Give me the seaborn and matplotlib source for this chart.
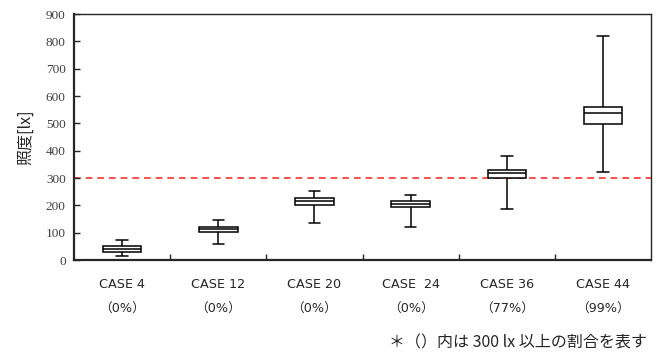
import numpy as np
import pandas as pd
import matplotlib
matplotlib.use('Agg')
import matplotlib.pyplot as plt
import seaborn as sns

# ケース名と300lx以上の割合
cases = ['CASE 4', 'CASE 12', 'CASE 20', 'CASE  24', 'CASE 36', 'CASE 44']
ratios = ['（0%）', '（0%）', '（0%）', '（0%）', '（77%）', '（99%）']

# 箱ひげ図の値（最小, 第1四分位, 中央値, 第3四分位, 最大）[lx]
lx_min = [13, 60, 134, 121, 188, 323]
lx_q1 = [29, 104, 202, 193, 302, 499]
lx_med = [40, 112, 216, 205, 318, 539]
lx_q3 = [52, 122, 228, 215, 330, 561]
lx_max = [72, 147, 254, 237, 382, 819]

threshold = 300

rows = []
for i, c in enumerate(cases):
    for v in (lx_min[i], lx_q1[i], lx_med[i], lx_q3[i], lx_max[i]):
        rows.append({'case': c, 'lx': v})
df = pd.DataFrame(rows)

sns.set_style('ticks')
plt.rcParams['font.family'] = ['Noto Sans CJK JP', 'DejaVu Sans']

fig = plt.figure(figsize=(6.61, 3.54), dpi=100)
ax = fig.add_axes([0.112, 0.2655, 0.873, 0.6945])

sns.boxplot(data=df, x='case', y='lx', order=cases, whis=(0, 100), width=0.4,
            color='white', linecolor='black', linewidth=1.1, ax=ax,
            capwidths=0.12)

ax.axhline(threshold, color='#ff3030', linestyle=(0, (4, 3)), linewidth=1.2, zorder=0)

ax.set_xlim(-0.5, len(cases) - 0.5)
ax.set_ylim(0, 900)
ax.set_yticks(np.arange(0, 901, 100))
ax.set_yticklabels([str(v) for v in range(0, 901, 100)],
                   fontfamily='Liberation Serif', fontsize=9.5, color='#404040')
ax.tick_params(axis='y', direction='in', length=4, width=1, pad=6)

ax.set_xticks(range(len(cases)))
ax.set_xticklabels([f'{c}\n{r}' for c, r in zip(cases, ratios)],
                   fontsize=9.2, linespacing=2.15,
                   fontfamily=['DejaVu Sans', 'Noto Sans CJK JP'])
ax.tick_params(axis='x', length=0, pad=13)
ax.set_xticks(np.arange(0.5, len(cases) - 0.5, 1), minor=True)
ax.tick_params(axis='x', which='minor', direction='in', length=4, width=1)

ax.set_xlabel('')
ax.set_ylabel('照度[lx]', fontsize=11.5, labelpad=8)

for s in ['left', 'bottom']:
    ax.spines[s].set_linewidth(1.6)
for s in ['top', 'right']:
    ax.spines[s].set_linewidth(1.0)
    ax.spines[s].set_visible(True)

fig.text(0.979, 0.03, '＊（）内は 300 lx 以上の割合を表す', ha='right', va='center',
         fontsize=11.5)

fig.savefig('out.png', dpi=100)
